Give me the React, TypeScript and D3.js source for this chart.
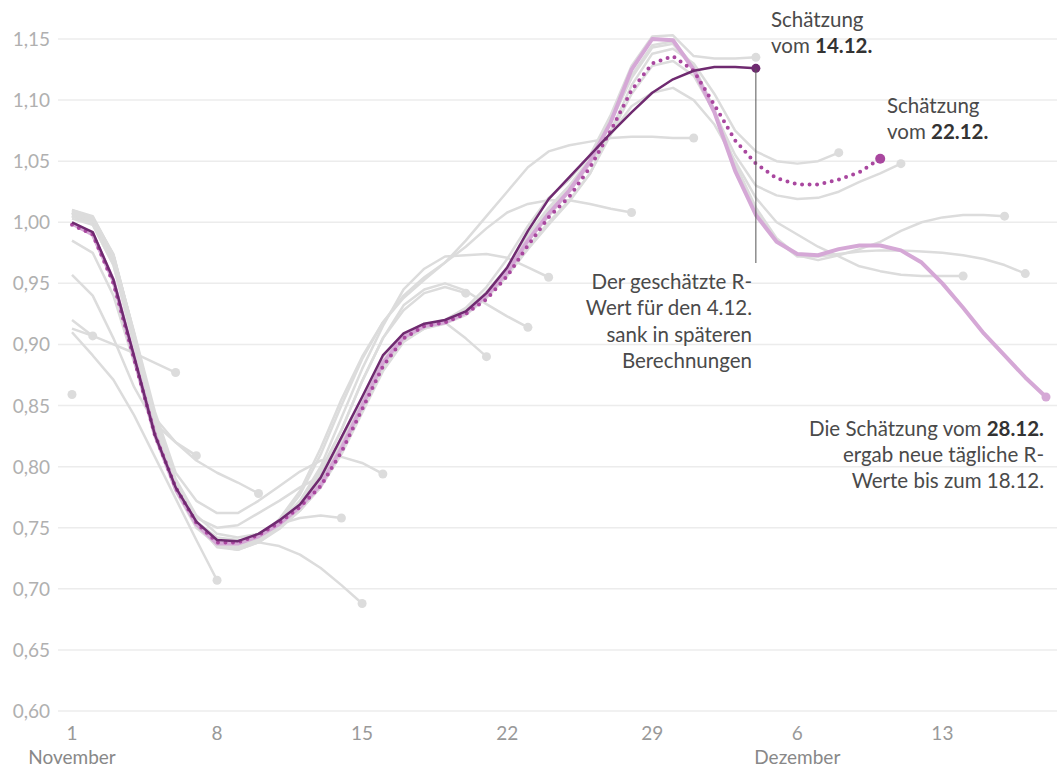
import React from "react";
import * as d3 from "d3";

// chart size
const W = 1057;
const H = 772;

// y ticks (R value) and x ticks (day index, 1 = 1. November)
const yTicks = [0.6, 0.65, 0.7, 0.75, 0.8, 0.85, 0.9, 0.95, 1.0, 1.05, 1.1, 1.15];
const xTickDays = [1, 8, 15, 22, 29, 36, 43];
const xTickLabels = ["1", "8", "15", "22", "29", "6", "13"];
const monthLabels = [
  { day: 1, label: "November" },
  { day: 36, label: "Dezember" },
];

// older estimates (grey), each starts on 1 Nov, named by the day of their last value
const g01 = [0.859];
const g02 = [0.92, 0.907];
const g06 = [0.913, 0.907, 0.9, 0.893, 0.885, 0.877];
const g07 = [0.957, 0.94, 0.905, 0.865, 0.835, 0.82, 0.809];
const g08 = [0.91, 0.891, 0.871, 0.842, 0.808, 0.774, 0.74, 0.707];
const g10 = [0.985, 0.975, 0.94, 0.885, 0.84, 0.82, 0.805, 0.795, 0.787, 0.778];
const g13 = [1.005, 0.998, 0.965, 0.9, 0.835, 0.785, 0.758, 0.75, 0.752, 0.762, 0.772, 0.783, 0.792];
const g14 = [1.005, 1.0, 0.968, 0.905, 0.84, 0.79, 0.76, 0.745, 0.742, 0.745, 0.753, 0.758, 0.76, 0.758];
const g15 = [1.008, 1.002, 0.97, 0.905, 0.84, 0.788, 0.755, 0.742, 0.74, 0.738, 0.735, 0.728, 0.717, 0.703, 0.688];
const g16 = [1.008, 1.003, 0.972, 0.91, 0.845, 0.795, 0.772, 0.762, 0.762, 0.772, 0.784, 0.796, 0.805, 0.808, 0.803, 0.794];
const g20 = [1.005, 1.0, 0.968, 0.905, 0.835, 0.782, 0.752, 0.737, 0.735, 0.742, 0.755, 0.772, 0.797, 0.83, 0.87, 0.905, 0.928, 0.942, 0.947, 0.942];
const g21 = [1.003, 0.998, 0.965, 0.9, 0.832, 0.78, 0.75, 0.736, 0.735, 0.742, 0.753, 0.768, 0.788, 0.82, 0.855, 0.89, 0.908, 0.917, 0.918, 0.905, 0.89];
const g23 = [1.005, 1.0, 0.968, 0.903, 0.835, 0.782, 0.752, 0.736, 0.734, 0.74, 0.752, 0.77, 0.795, 0.83, 0.87, 0.905, 0.932, 0.945, 0.95, 0.944, 0.933, 0.923, 0.914];
const g24 = [1.007, 1.002, 0.97, 0.905, 0.837, 0.783, 0.752, 0.736, 0.733, 0.739, 0.752, 0.772, 0.8, 0.84, 0.88, 0.915, 0.945, 0.962, 0.972, 0.973, 0.974, 0.971, 0.963, 0.955];
const g28 = [1.008, 1.003, 0.972, 0.907, 0.838, 0.784, 0.752, 0.736, 0.733, 0.74, 0.755, 0.777, 0.81, 0.85, 0.888, 0.918, 0.938, 0.953, 0.967, 0.98, 0.995, 1.008, 1.015, 1.018, 1.018, 1.015, 1.011, 1.008];
const g31 = [1.01, 1.005, 0.973, 0.908, 0.838, 0.784, 0.752, 0.735, 0.733, 0.741, 0.757, 0.78, 0.815, 0.855, 0.89, 0.918, 0.94, 0.955, 0.967, 0.985, 1.005, 1.025, 1.045, 1.058, 1.063, 1.066, 1.069, 1.07, 1.07, 1.069, 1.069];
const g34 = [1.006, 1.001, 0.97, 0.905, 0.838, 0.785, 0.755, 0.738, 0.736, 0.742, 0.753, 0.767, 0.786, 0.815, 0.85, 0.885, 0.907, 0.916, 0.92, 0.93, 0.947, 0.97, 0.997, 1.02, 1.035, 1.055, 1.088, 1.128, 1.152, 1.153, 1.136, 1.134, 1.134, 1.135];
const g38 = [1.008, 1.002, 0.972, 0.907, 0.84, 0.786, 0.755, 0.737, 0.735, 0.741, 0.752, 0.766, 0.784, 0.812, 0.846, 0.88, 0.903, 0.913, 0.918, 0.926, 0.94, 0.958, 0.98, 1.0, 1.018, 1.04, 1.075, 1.112, 1.138, 1.142, 1.13, 1.105, 1.075, 1.058, 1.05, 1.048, 1.05, 1.057];
const g41 = [1.007, 1.001, 0.971, 0.906, 0.839, 0.785, 0.754, 0.736, 0.734, 0.74, 0.751, 0.765, 0.783, 0.81, 0.844, 0.878, 0.902, 0.913, 0.917, 0.924, 0.938, 0.956, 0.978, 0.998, 1.017, 1.04, 1.072, 1.105, 1.128, 1.132, 1.12, 1.09, 1.055, 1.03, 1.022, 1.019, 1.02, 1.025, 1.033, 1.04, 1.048];
const g44 = [1.009, 1.003, 0.973, 0.908, 0.84, 0.786, 0.754, 0.735, 0.733, 0.739, 0.75, 0.764, 0.783, 0.812, 0.848, 0.882, 0.905, 0.915, 0.92, 0.928, 0.943, 0.963, 0.985, 1.005, 1.025, 1.048, 1.072, 1.095, 1.106, 1.11, 1.1, 1.08, 1.05, 1.02, 1.0, 0.99, 0.98, 0.972, 0.964, 0.96, 0.957, 0.956, 0.956, 0.956];
const g46 = [1.01, 1.004, 0.974, 0.909, 0.841, 0.787, 0.755, 0.735, 0.732, 0.738, 0.75, 0.765, 0.785, 0.815, 0.85, 0.884, 0.906, 0.915, 0.919, 0.927, 0.942, 0.962, 0.99, 1.012, 1.03, 1.052, 1.085, 1.12, 1.145, 1.148, 1.128, 1.092, 1.048, 1.012, 0.987, 0.973, 0.969, 0.973, 0.978, 0.984, 0.993, 1.0, 1.004, 1.006, 1.006, 1.005];
const g47 = [1.008, 1.003, 0.973, 0.908, 0.84, 0.786, 0.754, 0.734, 0.732, 0.738, 0.749, 0.764, 0.784, 0.813, 0.848, 0.883, 0.905, 0.914, 0.918, 0.926, 0.941, 0.961, 0.988, 1.01, 1.028, 1.05, 1.082, 1.118, 1.143, 1.146, 1.126, 1.09, 1.046, 1.01, 0.985, 0.972, 0.972, 0.974, 0.976, 0.977, 0.977, 0.976, 0.975, 0.973, 0.97, 0.965, 0.958];

// highlighted estimates
const est1412 = [1.0, 0.992, 0.953, 0.89, 0.826, 0.783, 0.755, 0.74, 0.739, 0.745, 0.756, 0.769, 0.791, 0.824, 0.857, 0.891, 0.909, 0.917, 0.92, 0.927, 0.942, 0.963, 0.993, 1.019, 1.037, 1.055, 1.073, 1.09, 1.106, 1.117, 1.124, 1.127, 1.127, 1.126];
const est2212 = [0.998, 0.99, 0.95, 0.888, 0.826, 0.783, 0.754, 0.738, 0.738, 0.744, 0.754, 0.767, 0.784, 0.812, 0.847, 0.882, 0.905, 0.915, 0.918, 0.925, 0.937, 0.956, 0.981, 1.004, 1.021, 1.045, 1.075, 1.108, 1.13, 1.136, 1.124, 1.096, 1.067, 1.048, 1.036, 1.031, 1.031, 1.035, 1.041, 1.052];
const est2812 = [0.999, 0.99, 0.952, 0.889, 0.826, 0.782, 0.753, 0.737, 0.737, 0.743, 0.753, 0.767, 0.785, 0.815, 0.85, 0.885, 0.906, 0.915, 0.918, 0.926, 0.94, 0.959, 0.985, 1.007, 1.026, 1.05, 1.082, 1.125, 1.15, 1.149, 1.125, 1.09, 1.042, 1.006, 0.984, 0.974, 0.973, 0.978, 0.981, 0.981, 0.977, 0.967, 0.95, 0.93, 0.909, 0.891, 0.873, 0.857];

const greySeries = [g01, g02, g06, g07, g08, g10, g13, g14, g15, g16, g20, g21, g23, g24, g28, g31, g34, g38, g41, g44, g46, g47];

const FONT = "Lato, 'Source Sans Pro', 'Open Sans', sans-serif";

const App = () => {
  const x = d3.scaleLinear().domain([1, 48]).range([72, 1046]);
  const y = d3.scaleLinear().domain([0.6, 1.15]).range([711, 39]);

  const toPts = (vals: number[]) => vals.map((v, i) => [i + 1, v] as [number, number]);
  const line = d3
    .line<[number, number]>()
    .x((d) => x(d[0]))
    .y((d) => y(d[1]));

  const fmt = (v: number) => v.toFixed(2).replace(".", ",");
  const last = (vals: number[]) => [vals.length, vals[vals.length - 1]] as [number, number];

  const p1412 = last(est1412);
  const p2212 = last(est2212);
  const p2812 = last(est2812);

  const txt = { fontFamily: FONT, fontSize: 20.5, fill: "#4a4a4a" };
  const tick = { fontFamily: FONT, fontSize: 19 };

  return (
    <svg width={W} height={H} style={{ position: "absolute", left: 0, top: 0, background: "#fff" }}>
      {/* grid + y labels */}
      {yTicks.map((t) => (
        <g key={t}>
          <line x1={58} x2={W} y1={y(t)} y2={y(t)} stroke="#ececec" strokeWidth={1.5} />
          <text {...tick} x={50} y={y(t) + 7} textAnchor="end" fill="#b0b0b0">
            {fmt(t)}
          </text>
        </g>
      ))}

      {/* x labels */}
      {xTickDays.map((d, i) => (
        <text key={d} {...tick} x={x(d)} y={740} textAnchor="middle" fill="#999">
          {xTickLabels[i]}
        </text>
      ))}
      {monthLabels.map((m) => (
        <text key={m.label} {...tick} x={x(m.day)} y={764} textAnchor="middle" fill="#888">
          {m.label}
        </text>
      ))}

      {/* grey older estimates */}
      {greySeries.map((s, i) => (
        <g key={i}>
          {s.length > 1 && (
            <path d={line(toPts(s)) || ""} fill="none" stroke="#dcdcdc" strokeWidth={2.5} strokeLinejoin="round" />
          )}
          <circle cx={x(s.length)} cy={y(s[s.length - 1])} r={4.5} fill="#dcdcdc" />
        </g>
      ))}

      {/* estimate 28.12. */}
      <path d={line(toPts(est2812)) || ""} fill="none" stroke="#d5a8d6" strokeWidth={4} strokeLinejoin="round" />
      <circle cx={x(p2812[0])} cy={y(p2812[1])} r={4.5} fill="#d5a8d6" />

      {/* estimate 22.12. (dotted) */}
      <path
        d={line(toPts(est2212)) || ""}
        fill="none"
        stroke="#a9479f"
        strokeWidth={4}
        strokeLinecap="round"
        strokeDasharray="0 7.5"
      />
      <circle cx={x(p2212[0])} cy={y(p2212[1])} r={5} fill="#a9479f" />

      {/* estimate 14.12. */}
      <path d={line(toPts(est1412)) || ""} fill="none" stroke="#6f2a70" strokeWidth={2.5} strokeLinejoin="round" />
      <circle cx={x(p1412[0])} cy={y(p1412[1])} r={4.5} fill="#6f2a70" />

      {/* annotation leader line */}
      <line x1={x(p1412[0])} x2={x(p1412[0])} y1={y(p1412[1])} y2={263} stroke="#555" strokeWidth={1} />

      {/* annotations */}
      <text {...txt} x={771} y={27}>Schätzung</text>
      <text {...txt} x={771} y={53}>
        vom <tspan fontWeight="bold" fill="#333">14.12.</tspan>
      </text>
      <text {...txt} x={887} y={113}>Schätzung</text>
      <text {...txt} x={887} y={139}>
        vom <tspan fontWeight="bold" fill="#333">22.12.</tspan>
      </text>

      <g textAnchor="end">
        <text {...txt} x={752} y={289}>Der geschätzte R-</text>
        <text {...txt} x={752} y={315}>Wert für den 4.12.</text>
        <text {...txt} x={752} y={342}>sank in späteren</text>
        <text {...txt} x={752} y={368}>Berechnungen</text>
      </g>

      <g textAnchor="end">
        <text {...txt} x={1044} y={436}>
          Die Schätzung vom <tspan fontWeight="bold" fill="#333">28.12.</tspan>
        </text>
        <text {...txt} x={1044} y={462}>ergab neue tägliche R-</text>
        <text {...txt} x={1044} y={488}>Werte bis zum 18.12.</text>
      </g>
    </svg>
  );
};

export default App;
